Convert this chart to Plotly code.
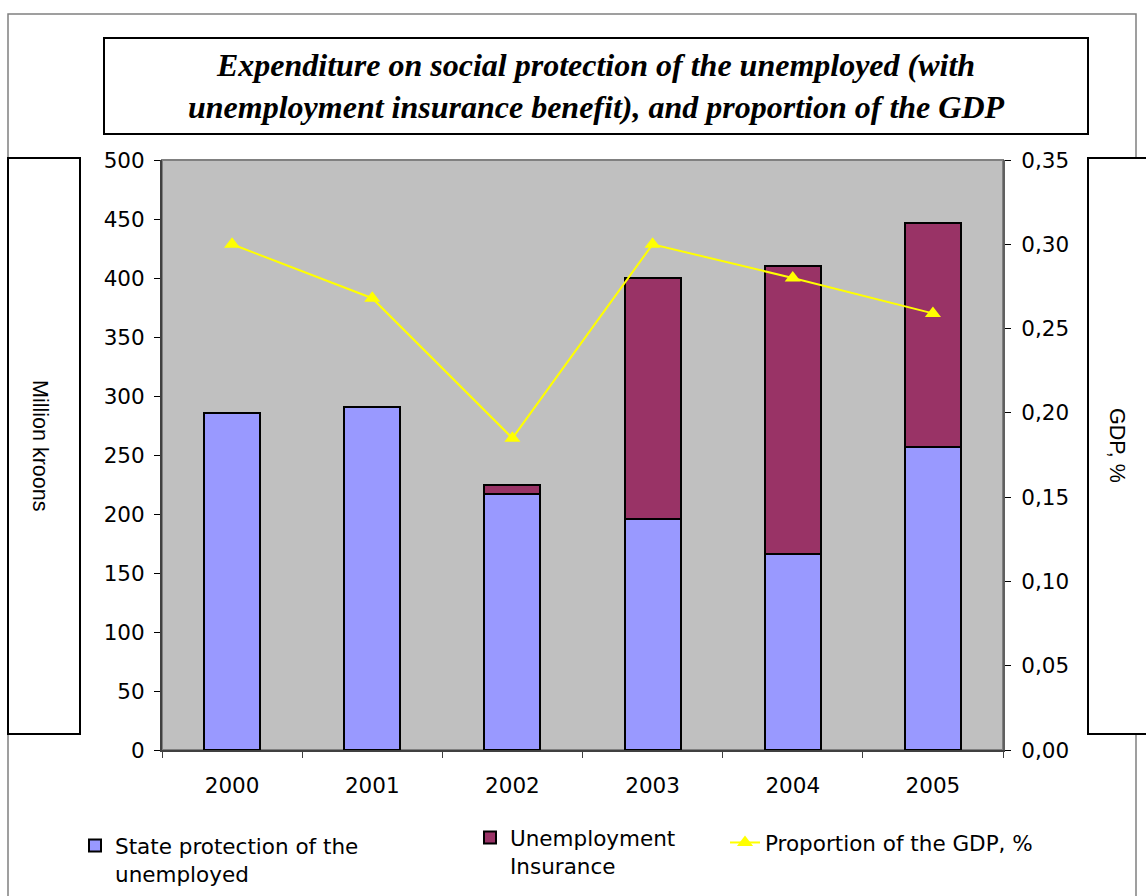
import plotly.graph_objects as go

years = ["2000", "2001", "2002", "2003", "2004", "2005"]
state_protection = [286, 291, 217, 196, 166, 257]
unemployment_insurance = [0, 0, 8, 204, 244, 190]
gdp_share = [0.300, 0.268, 0.185, 0.300, 0.280, 0.259]

W, H = 1146, 896
L, R, T, B = 162, 1003, 160, 750


def px(x):
    return (x - L) / (R - L)


def py(y):
    return (B - y) / (B - T)


def cx(x):
    return x / W


def cy(y):
    return 1 - y / H


FS = 21.5
tick_font = dict(family="DejaVu Sans", size=FS, color="black")

fig = go.Figure()
fig.add_trace(go.Bar(
    x=years, y=state_protection, name="State protection of the<br>unemployed",
    marker=dict(color="#9999FF", line=dict(color="black", width=2)),
    width=0.4, legend="legend",
))
fig.add_trace(go.Bar(
    x=years, y=unemployment_insurance, name="Unemployment<br>Insurance",
    marker=dict(color="#993366", line=dict(color="black", width=2)),
    width=0.4, legend="legend2",
))
fig.add_trace(go.Scatter(
    x=years, y=gdp_share, name="Proportion of the GDP, %", yaxis="y2",
    mode="lines+markers",
    line=dict(color="#FFFF00", width=2),
    marker=dict(symbol="triangle-up", size=14, color="#FFFF00"),
    legend="legend3",
))

shapes = [
    dict(type="rect", xref="paper", yref="paper", x0=px(8), x1=px(1136), y0=py(14), y1=py(905),
         line=dict(color="#808080", width=1.5), layer="below"),
    dict(type="rect", xref="paper", yref="paper", x0=px(104), x1=px(1088), y0=py(38), y1=py(134),
         line=dict(color="black", width=2), fillcolor="white", layer="below"),
    dict(type="rect", xref="paper", yref="paper", x0=px(8), x1=px(80), y0=py(158), y1=py(734),
         line=dict(color="black", width=2), fillcolor="white", layer="below"),
    dict(type="rect", xref="paper", yref="paper", x0=px(1088), x1=px(1160), y0=py(158), y1=py(734),
         line=dict(color="black", width=2), fillcolor="white", layer="below"),
    dict(type="rect", xref="paper", yref="paper", x0=0, x1=1, y0=0, y1=1,
         line=dict(color="#808080", width=2), layer="below"),
]

annotations = [
    dict(text="Expenditure on social protection of the unemployed (with<br>unemployment insurance benefit), and proportion of the GDP",
         xref="paper", yref="paper", x=px(596), y=py(86), xanchor="center", yanchor="middle",
         showarrow=False, align="center",
         font=dict(family="Liberation Serif", size=32, color="black", style="italic", weight="bold")),
    dict(text="Million kroons", xref="paper", yref="paper", x=px(40), y=py(445),
         xanchor="center", yanchor="middle", textangle=90, showarrow=False,
         font=dict(family="Liberation Sans", size=21.5, color="black")),
    dict(text="GDP, %", xref="paper", yref="paper", x=px(1117), y=py(445),
         xanchor="center", yanchor="middle", textangle=90, showarrow=False,
         font=dict(family="Liberation Sans", size=21.5, color="black")),
]

leg_common = dict(orientation="v", bgcolor="rgba(0,0,0,0)", borderwidth=0,
                  font=dict(family="DejaVu Sans", size=FS, color="black"),
                  xref="container", yref="container",
                  xanchor="left", yanchor="top", valign="top")

fig.update_layout(
    width=W, height=H, autosize=False,
    margin=dict(l=L, r=W - R, t=T, b=H - B, pad=0, autoexpand=False),
    paper_bgcolor="white", plot_bgcolor="#C0C0C0",
    separators=", ",
    barmode="stack", bargap=0.6,
    showlegend=True,
    xaxis=dict(type="category", showgrid=False, showline=True, linecolor="#404040", linewidth=2,
               ticks="outside", tickson="boundaries", ticklen=6, tickcolor="#404040",
               tickfont=tick_font, ticklabelstandoff=15, zeroline=False),
    yaxis=dict(range=[0, 500], tickvals=list(range(0, 501, 50)), showgrid=False, zeroline=False,
               showline=True, linecolor="#404040", linewidth=2, ticks="outside", ticklen=6,
               tickcolor="black", tickfont=tick_font, ticklabelstandoff=5),
    yaxis2=dict(range=[0, 0.35], tickvals=[0, 0.05, 0.10, 0.15, 0.20, 0.25, 0.30, 0.35],
                tickformat=".2f", overlaying="y", side="right", showgrid=False, zeroline=False,
                showline=True, linecolor="#606060", linewidth=2, ticks="outside", ticklen=6,
                tickcolor="black", tickfont=tick_font, ticklabelstandoff=6),
    legend=dict(x=cx(75), y=cy(825), **leg_common),
    legend2=dict(x=cx(470), y=cy(817), **leg_common),
    legend3=dict(x=cx(725), y=cy(822), **leg_common),
    shapes=shapes,
    annotations=annotations,
)

fig.write_html("out.html", config={"displayModeBar": False},
               post_script="document.body.style.margin='0';")
